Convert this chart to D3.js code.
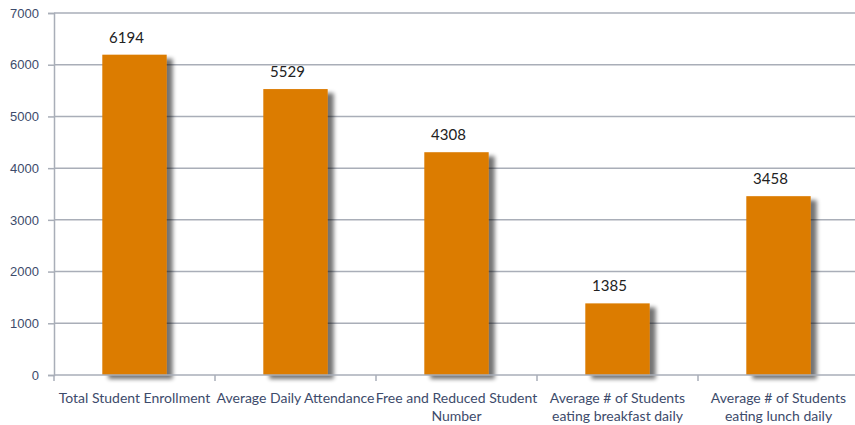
<!DOCTYPE html>
<html>
<head>
<meta charset="utf-8">
<script src="https://cdn.jsdelivr.net/npm/d3@7"></script>
<style>
  body { margin: 0; background: #fff; }
  svg { display: block; font-family: Lato, "Open Sans", sans-serif; }
</style>
</head>
<body>
<div id="chart"></div>
<script>
// data
const categories = [
  "Total Student Enrollment",
  "Average Daily Attendance",
  "Free and Reduced Student Number",
  "Average # of Students eating breakfast daily",
  "Average # of Students eating lunch daily"
];
const categoryLines = [
  ["Total Student Enrollment"],
  ["Average Daily Attendance"],
  ["Free and Reduced Student", "Number"],
  ["Average # of Students", "eating breakfast daily"],
  ["Average # of Students", "eating lunch daily"]
];
const values = [6194, 5529, 4308, 1385, 3458];
const yTicks = [0, 1000, 2000, 3000, 4000, 5000, 6000, 7000];

const width = 855, height = 425,
  margin = { top: 13, right: -4, bottom: 50, left: 54 };

const svg = d3.select("#chart").append("svg")
  .attr("width", width)
  .attr("height", height);

// drop shadow for the bars
const defs = svg.append("defs");
const f = defs.append("filter").attr("id", "shadow")
  .attr("x", "-20%").attr("y", "-20%").attr("width", "160%").attr("height", "140%");
f.append("feGaussianBlur").attr("in", "SourceAlpha").attr("stdDeviation", 2);
f.append("feOffset").attr("dx", 6).attr("dy", 4).attr("result", "off");
f.append("feComponentTransfer").append("feFuncA").attr("type", "linear").attr("slope", 0.55);
const m = f.append("feMerge");
m.append("feMergeNode");
m.append("feMergeNode").attr("in", "SourceGraphic");

const x = d3.scaleBand()
  .domain(categories)
  .range([margin.left, width - margin.right])
  .paddingInner(0.6)
  .paddingOuter(0.3);

const xb = d3.scaleBand()
  .domain(categories)
  .range([margin.left, width - margin.right]);

const y = d3.scaleLinear()
  .domain([0, 7000])
  .range([height - margin.bottom, margin.top]);

// gridlines
svg.append("g")
  .selectAll("line")
  .data(yTicks.slice(1))
  .join("line")
  .attr("x1", margin.left)
  .attr("x2", width)
  .attr("y1", d => y(d))
  .attr("y2", d => y(d))
  .attr("stroke", "#a9aeb8")
  .attr("stroke-width", 1.5);

// y axis
const yAxis = svg.append("g")
  .attr("transform", `translate(${margin.left},0)`)
  .call(d3.axisLeft(y).tickValues(yTicks).tickSize(6).tickPadding(9).tickFormat(d3.format("d")));
yAxis.select(".domain").attr("stroke", "#a9aeb8").attr("stroke-width", 1.5);
yAxis.selectAll(".tick line").attr("stroke", "#a9aeb8").attr("stroke-width", 1.5);
yAxis.selectAll(".tick text").attr("fill", "#3d4b6b").attr("font-size", 13);

// bars
svg.append("g")
  .selectAll("rect")
  .data(values)
  .join("rect")
  .attr("x", (d, i) => x(categories[i]))
  .attr("width", x.bandwidth())
  .attr("y", d => y(d))
  .attr("height", d => y(0) - y(d))
  .attr("fill", "#dc7b00")
  .attr("filter", "url(#shadow)");

// x axis
const x0 = y(0);
svg.append("line")
  .attr("x1", margin.left).attr("x2", width)
  .attr("y1", x0).attr("y2", x0)
  .attr("stroke", "#a9aeb8").attr("stroke-width", 1.5);
svg.append("g")
  .selectAll("line")
  .data(categories)
  .join("line")
  .attr("x1", d => xb(d))
  .attr("x2", d => xb(d))
  .attr("y1", x0)
  .attr("y2", x0 + 6)
  .attr("stroke", "#a9aeb8").attr("stroke-width", 1.5);

// category labels
svg.append("g")
  .selectAll("text")
  .data(categoryLines)
  .join("text")
  .attr("text-anchor", "middle")
  .attr("fill", "#3d4b6b")
  .attr("font-size", 14)
  .attr("y", x0 + 28)
  .selectAll("tspan")
  .data((d, i) => d.map(t => ({ t, i })))
  .join("tspan")
  .attr("x", d => xb(categories[d.i]) + xb.bandwidth() / 2)
  .attr("dy", (d, j) => j === 0 ? 0 : 18)
  .text(d => d.t);

// value labels
svg.append("g")
  .selectAll("text")
  .data(values)
  .join("text")
  .attr("text-anchor", "middle")
  .attr("x", (d, i) => x(categories[i]) + x.bandwidth() / 2 - 8)
  .attr("y", d => y(d) - 12)
  .attr("fill", "#222")
  .attr("font-size", 15)
  .text(d => d);
</script>
</body>
</html>
